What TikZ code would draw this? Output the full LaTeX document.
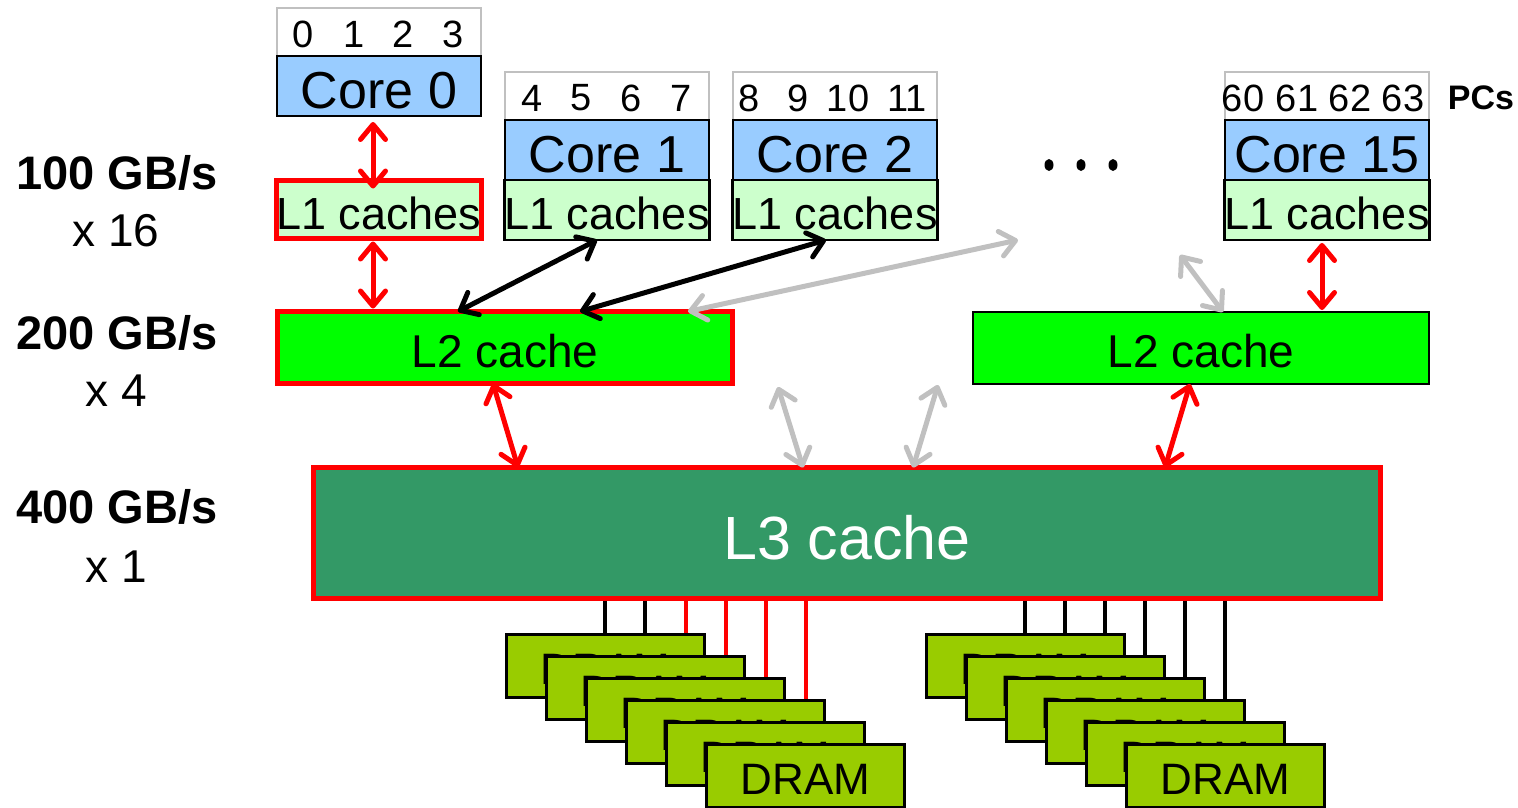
\documentclass[tikz,border=0pt]{standalone}
\usepackage{fontspec}
\setmainfont{Liberation Sans}
\usetikzlibrary{arrows.meta,backgrounds}

\definecolor{coreblue}{HTML}{99CCFF}
\definecolor{lonegreen}{HTML}{CCFFCC}
\definecolor{ltwogreen}{HTML}{00FF00}
\definecolor{lthreegreen}{HTML}{339966}
\definecolor{dramgreen}{HTML}{99CC00}
\definecolor{pcgray}{HTML}{C0C0C0}
\definecolor{linkred}{HTML}{FF0000}

\newcommand\fsz[1]{\fontsize{#1}{#1}\selectfont}

\tikzset{
  cell/.style={draw, inner sep=0pt, outer sep=0pt, line width=2.5pt, minimum width=204pt},
  pcrow/.style={cell, draw=pcgray, line width=2pt, fill=white, minimum height=48pt},
  corebox/.style={cell, fill=coreblue, minimum height=60pt, font=\fsz{52},
    text height=44pt, text depth=0pt},
  lonebox/.style={cell, fill=lonegreen, minimum height=60pt, font=\fsz{45},
    text height=39pt, text depth=0pt},
  pcnum/.style={inner sep=0pt, font=\fsz{38}},
  ltwobox/.style={draw, inner sep=0pt, outer sep=0pt, fill=ltwogreen, font=\fsz{46},
    text height=39pt, text depth=0pt},
  drambox/.style={draw, line width=3pt, inner sep=0pt, outer sep=0pt, fill=dramgreen,
    minimum width=198pt, minimum height=63pt, font=\fsz{44},
    text height=37pt, text depth=0pt},
  rate/.style={inner sep=0pt, font=\bfseries\fsz{47}},
  count/.style={inner sep=0pt, font=\fsz{46}},
  tipshape/.tip={Straight Barb[length=15pt,width=25pt,round]},
  link/.style={line width=5pt, tipshape-tipshape},
  redlink/.style={link, draw=linkred},
  blacklink/.style={link, draw=black},
  graylink/.style={link, draw=pcgray},
  bus/.style={line width=4pt, draw=#1, shorten <=2.5pt},
}

\begin{document}
\begin{tikzpicture}[x=1pt, y=-1pt]
\useasboundingbox (0,0) rectangle (1518,808);

% bandwidth labels
\node[rate]  (r1) at (117,173) {100 GB/s};
\node[count] (c1) at (116,231) {x 16};
\node[rate]  (r2) at (117,333) {200 GB/s};
\node[count] (c2) at (116,391) {x 4};
\node[rate]  (r3) at (117,507) {400 GB/s};
\node[count] (c3) at (116,567) {x 1};

% core 0
\node[pcrow]   (pc0)   at (379,32)  {};
\node[corebox] (core0) at (379,86)  {Core 0};
\node[lonebox, draw=linkred, line width=5pt, minimum width=203pt, minimum height=58pt]
               (l1a)   at (379,209.5) {L1 caches};
\foreach \x/\t [count=\i] in {303/0,354/1,403/2,453/3}
  \node[pcnum] (pa\i) at (\x,34) {\t};

% core 1
\node[pcrow]   (pc1)   at (607,96)  {};
\node[corebox] (core1) at (607,150) {Core 1};
\node[lonebox] (l1b)   at (607,210) {L1 caches};
\foreach \x/\t [count=\i] in {532/4,581/5,631/6,681/7}
  \node[pcnum] (pb\i) at (\x,98) {\t};

% core 2
\node[pcrow]   (pc2)   at (835,96)  {};
\node[corebox] (core2) at (835,150) {Core 2};
\node[lonebox] (l1c)   at (835,210) {L1 caches};
\foreach \x/\t [count=\i] in {749/8,798/9,848/10,907/11}
  \node[pcnum] (pn\i) at (\x,98) {\t};

% core 15
\node[pcrow]   (pc15)  at (1327,96)  {};
\node[corebox] (core15) at (1327,150) {Core 15};
\node[lonebox] (l1p)   at (1327,210) {L1 caches};
\foreach \x/\t [count=\i] in {1243/60,1297/61,1350/62,1403/63}
  \node[pcnum] (pd\i) at (\x,98) {\t};
\node[inner sep=0pt, font=\bfseries\fsz{34}] (pcs) at (1481,98) {PCs};

% ellipsis between core 2 and core 15
\foreach \x in {1049,1081,1113}
  \fill (\x,165) ellipse [x radius=4.5pt, y radius=6pt];

% L2 caches
\node[ltwobox, draw=linkred, line width=5pt, minimum width=455pt, minimum height=72pt]
  (l2a) at (505,347.5) {L2 cache};
\node[ltwobox, line width=2.5pt, minimum width=456pt, minimum height=72pt]
  (l2b) at (1201,348) {L2 cache};

% L3 cache
\node[draw=linkred, line width=5pt, fill=lthreegreen, inner sep=0pt, outer sep=0pt,
      minimum width=1067pt, minimum height=131pt, text=white, font=\fsz{61},
      text height=52pt, text depth=0pt]
  (l3) at (847,533) {L3 cache};

% DRAM stacks, each chip slightly in front of the previous one
\foreach \i in {1,...,6} {
  \node[drambox] (dl\i) at ({605.5+40*(\i-1)},{666+22*(\i-1)}) {DRAM};
  \node[drambox] (dr\i) at ({1025.5+40*(\i-1)},{666+22*(\i-1)}) {DRAM};
}

% memory channels from L3 to the chips, behind the chips
\begin{scope}[on background layer]
\foreach \x/\c/\d in {605/black/dl1,645/black/dl1,686/linkred/dl1,726/linkred/dl2,
                      766/linkred/dl3,806/linkred/dl4,
                      1025/black/dr1,1065/black/dr1,1105/black/dr1,1145/black/dr2,
                      1185/black/dr3,1225/black/dr4}
  \draw[bus=\c] (l3.south -| \x,0) -- (\d.north -| \x,0);
\end{scope}

% free ends of the faded links
\coordinate (g1) at (778,387);
\coordinate (g2) at (938,385);
\coordinate (g3) at (1018,240);
\coordinate (g4) at (1180,255);

% links between levels
\draw[redlink] ([yshift=-6pt]core0.south -| 373,0) -- ([yshift=-8pt]l1a.north -| 373,0);
\draw[redlink] ([yshift=-3pt]l1a.south -| 373,0) -- ([yshift=3pt]l2a.north -| 373,0);
\draw[redlink] ([yshift=-3pt]l1p.south -| 1322,0) -- ([yshift=2pt]l2b.north -| 1322,0);
\draw[redlink] (l2a.south -| 493,0) -- (l3.north -| 518,0);
\draw[redlink] (l2b.south -| 1190,0) -- (l3.north -| 1165,0);
\draw[blacklink] (l1b.south -| 597,0) -- (l2a.north -| 458,0);
\draw[blacklink] (l1c.south -| 826,0) -- (l2a.north -| 580,0);
\draw[graylink] (g3) -- (l2a.north -| 688,0);
\draw[graylink] (g4) -- (l2b.north -| 1223,0);
\draw[graylink] (g1) -- (l3.north -| 803,0);
\draw[graylink] (g2) -- (l3.north -| 913,0);
\end{tikzpicture}
\end{document}
